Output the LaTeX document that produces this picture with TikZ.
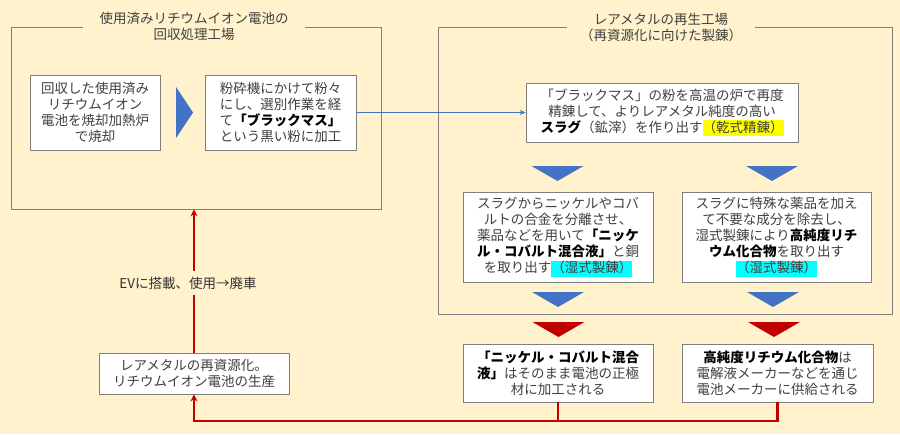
\documentclass[tikz,border=0pt]{standalone}
\usepackage{fontspec}
\setmainfont{Noto Sans CJK JP}
\usetikzlibrary{positioning,arrows.meta}
\definecolor{bgcol}{HTML}{FFF2CC}
\definecolor{boxgray}{HTML}{7F7F7F}
\definecolor{txtgray}{HTML}{404040}
\definecolor{flowblue}{HTML}{4472C4}
\definecolor{flowred}{HTML}{C00000}
\definecolor{hlcyan}{HTML}{00FFFF}
\definecolor{hlyellow}{HTML}{FFFF00}
\newcommand{\bkw}[1]{\textbf{\color{black}#1}}
\newcommand{\hly}[2]{{\setlength{\fboxsep}{0pt}\colorbox{#1}{\rule[-4pt]{0pt}{16pt}#2}}}
\tikzset{
  box/.style={draw=boxgray, fill=white, line width=0.8pt, align=center, inner sep=0pt,
    text=txtgray, font=\fontsize{13.5}{16}\selectfont},
  frame/.style={draw=boxgray, line width=0.8pt},
  title/.style={fill=bgcol, text=txtgray, align=center, inner sep=2pt,
    font=\fontsize{13.5}{16}\selectfont},
  blueline/.style={draw=flowblue, line width=1.5pt, -{Stealth[length=6pt,width=5pt]}},
  redline/.style={draw=flowred, line width=2.4pt}
}
\begin{document}
\begin{tikzpicture}[x=1pt, y=-1pt]
    \fill[bgcol] (0,0) rectangle (900,434);
    \useasboundingbox (0,0) rectangle (900,434);

    \node(lf)[frame, minimum width=370, minimum height=182] at (196,118) {};
    \node(rf)[frame, minimum width=454, minimum height=287] at (665,170.5) {};
    \node(lft)[title, minimum width=222] at (194,26.5) {使用済みリチウムイオン電池の\\回収処理工場};
    \node(rft)[title, minimum width=188] at (661,27) {レアメタルの再生工場\\（再資源化に向けた製錬）};

    \node(burn)[box, minimum width=130, minimum height=75] at (95,112.5)
      {回収した使用済み\\リチウムイオン\\電池を焼却加熱炉\\で焼却};
    \node(crush)[box, minimum width=151, minimum height=75] at (280.5,112.5)
      {粉砕機にかけて粉々\\にし、選別作業を経\\て\bkw{「ブラックマス」}\\という黒い粉に加工};
    \node(slag)[box, minimum width=272, minimum height=59] at (662,112.5)
      {「ブラックマス」の粉を高温の炉で再度\\精錬して、よりレアメタル純度の高い\\ \bkw{スラグ}（鉱滓）を作り出す\hly{hlyellow}{（乾式精錬）}};
    \node(nico)[box, minimum width=190, minimum height=90] at (558,237)
      {スラグからニッケルやコバ\\ルトの合金を分離させ、\\薬品などを用いて\bkw{「ニッケ}\\ \bkw{ル・コバルト混合液」}と銅\\を取り出す\hly{hlcyan}{（湿式製錬）}};
    \node(li)[box, minimum width=189, minimum height=90] at (776.5,237)
      {スラグに特殊な薬品を加え\\て不要な成分を除去し、\\湿式製錬により\bkw{高純度リチ}\\ \bkw{ウム化合物}を取り出す\\ \hly{hlcyan}{（湿式製錬）}};
    \node(nicous)[box, minimum width=190, minimum height=58] at (558,373)
      {\bkw{「ニッケル・コバルト混合}\\ \bkw{液」}はそのまま電池の正極\\材に加工される};
    \node(lius)[box, minimum width=191, minimum height=58] at (777.5,373)
      {\bkw{高純度リチウム化合物}は\\電解液メーカーなどを通じ\\電池メーカーに供給される};
    \node(prod)[box, minimum width=190, minimum height=41] at (194,373.5)
      {レアメタルの再資源化。\\リチウムイオン電池の生産};

    \fill[flowblue] (176,87) -- (193,112.5) -- (176,138) -- cycle;
    \foreach \x/\y/\c in {557.5/166/flowblue, 772/166/flowblue, 558/292/flowblue,
      773/292/flowblue, 558.5/322/flowred, 774/322/flowred}
      \fill[\c] (\x-26,\y) -- (\x+26,\y) -- (\x,\y+15) -- cycle;

    \draw[blueline](crush) -- (slag);
    \coordinate(j) at (194,421);
    \draw[redline](nicous.south) -- (nicous.south |- j);
    \draw[redline, -{Stealth[length=7pt,width=7pt]}](lius.south) |- (j) -- (prod.south);
    \draw[redline, -{Stealth[length=7pt,width=7pt]}](prod.north) -- (prod.north |- lf.south);
    \node(ev)[fill=bgcol, text=black!80, inner xsep=2pt, inner ysep=6pt,
      font=\fontsize{13.5}{16}\selectfont] at (188,283) {EVに搭載、使用→廃車};
\end{tikzpicture}
\end{document}
